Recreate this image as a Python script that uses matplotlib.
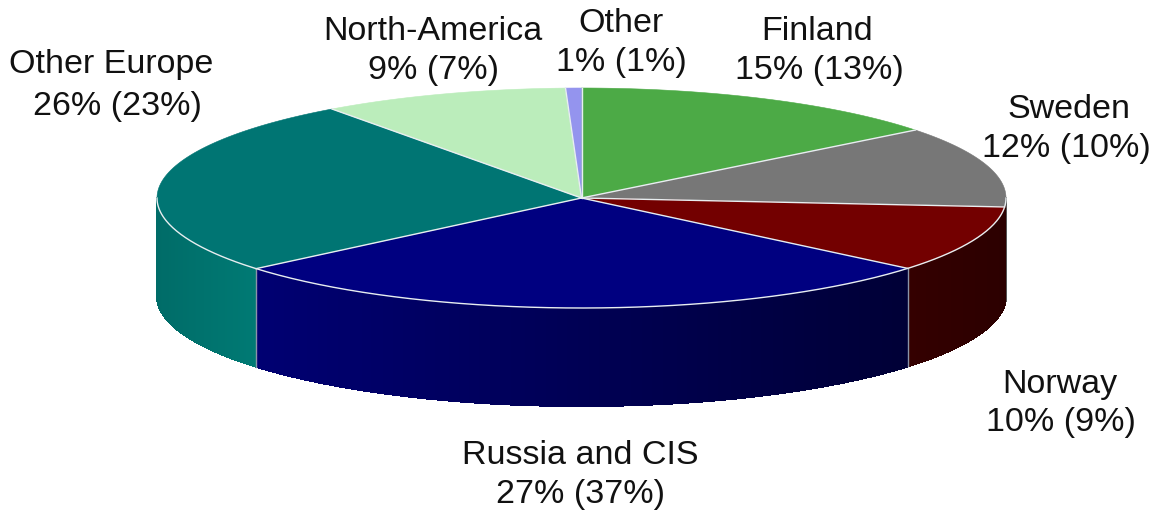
import numpy as np
import matplotlib
matplotlib.use("Agg")
import matplotlib.pyplot as plt
from matplotlib.colors import to_rgb
from matplotlib.patches import Polygon

# Slice shares as drawn, clockwise from 12 o'clock
categories = ["Finland", "Sweden", "Norway", "Russia and CIS", "Other Europe", "North-America", "Other"]
slice_values = [14.4, 11.9, 9.75, 27.85, 26.1, 9.4, 0.6]
top_colors = ["#4CAA46", "#777777", "#730000", "#000080", "#007573", "#BBEDBB", "#9494EE"]
wall_left = ["#4CAA46", "#555555", "#340000", "#000072", "#006C68", "#BBEDBB", "#9494EE"]
wall_right = ["#4CAA46", "#555555", "#2C0000", "#000036", "#007A74", "#BBEDBB", "#9494EE"]
value_labels = ["15% (13%)", "12% (10%)", "10% (9%)", "27% (37%)", "26% (23%)", "9% (7%)", "1% (1%)"]
name_pos = [(817, 31), (1069, 109), (1060, 384), (580, 455), (111, 65), (433, 31), (621, 23)]
value_pos = [(819, 70), (1066, 149), (1061, 423), (580, 495), (117, 106), (433, 70), (621, 62)]

CX, CY, RX, RY, DEPTH = 581.5, 198, 424.5, 110, 98

fig = plt.figure(figsize=(11.56, 5.12), dpi=100)
ax = fig.add_axes([0, 0, 1, 1])
ax.set_xlim(0, 1156)
ax.set_ylim(512, 0)
ax.axis("off")


def ex(t):
    return CX + RX * np.sin(t)


def ey(t):
    return CY - RY * np.cos(t)


edges = np.radians(np.concatenate([[0], np.cumsum(slice_values)]) * 3.6)
EDGE = "#E8EEF0"

# side walls, visible on the front half only
for i in range(len(slice_values)):
    a, b = max(edges[i], np.pi / 2), min(edges[i + 1], 3 * np.pi / 2)
    if a >= b:
        continue
    ts = np.linspace(a, b, max(int((b - a) * 120), 2) + 1)
    xa, xb = min(ex(a), ex(b)), max(ex(a), ex(b))
    cl, cr = np.array(to_rgb(wall_left[i])), np.array(to_rgb(wall_right[i]))
    for t0, t1 in zip(ts[:-1], ts[1:]):
        f = ((ex(t0) + ex(t1)) / 2 - xa) / max(xb - xa, 1)
        c = cl + (cr - cl) * f
        pts = [(ex(t0), ey(t0)), (ex(t1), ey(t1)), (ex(t1), ey(t1) + DEPTH), (ex(t0), ey(t0) + DEPTH)]
        ax.add_patch(Polygon(pts, closed=True, fc=c, ec=c, lw=0.8, antialiased=False, zorder=1))

# vertical seams between wall sections
for e in edges[1:-1]:
    if np.pi / 2 < e < 3 * np.pi / 2 and abs(ex(e) - CX) < RX * 0.9:
        ax.plot([ex(e), ex(e)], [ey(e), ey(e) + DEPTH], color="#8A94A8", lw=1.0, zorder=2)

# top face
for i in range(len(slice_values)):
    ts = np.linspace(edges[i], edges[i + 1], 80)
    pts = [(CX, CY)] + list(zip(ex(ts), ey(ts)))
    ax.add_patch(Polygon(pts, closed=True, fc=top_colors[i], ec=top_colors[i], lw=0.4, zorder=3))

# white rim on the front edge and spokes
front = np.linspace(np.pi / 2, 3 * np.pi / 2, 300)
ax.plot(ex(front), ey(front), color=EDGE, lw=1.0, zorder=4)
for e in edges[:-1]:
    ax.plot([CX, ex(e)], [CY, ey(e)], color=EDGE, lw=1.0, zorder=4)

# labels
for name, value, np_, vp in zip(categories, value_labels, name_pos, value_pos):
    for txt, (x, y) in ((name, np_), (value, vp)):
        ax.text(x, y, txt, ha="center", va="center",
                fontsize=24.5, family="Liberation Sans", color="#111111", zorder=5)

fig.savefig("out.png", dpi=100, facecolor="white")
